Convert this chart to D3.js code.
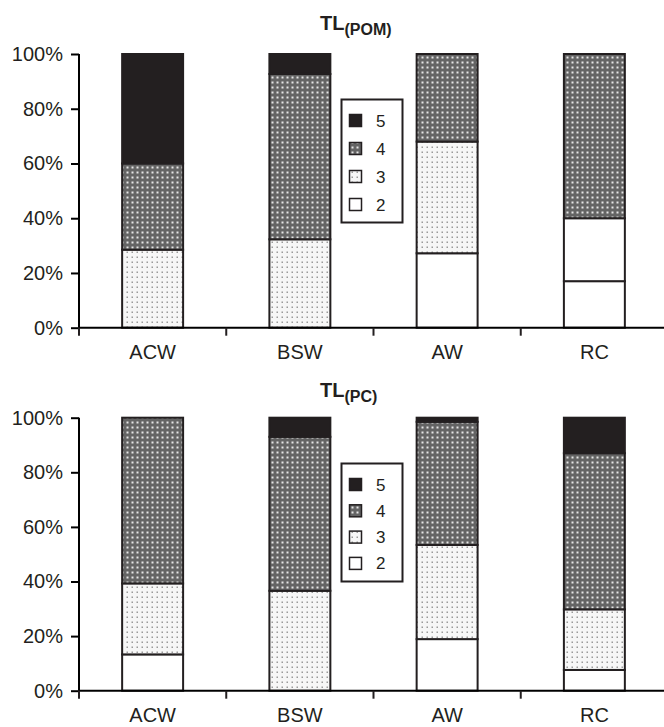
<!DOCTYPE html>
<html>
<head>
<meta charset="utf-8">
<script src="https://cdn.jsdelivr.net/npm/d3@7"></script>
<style>
  body { margin: 0; background: #fff; }
  text { font-family: "Liberation Sans", Arial, sans-serif; fill: #231f20; }
</style>
</head>
<body>
<div id="graph"></div>
<script>
// categories and class keys (bottom to top in each bar)
var categories = ["ACW", "BSW", "AW", "RC"];
var keys = ["1", "2", "3", "4", "5"];
var legendKeys = ["5", "4", "3", "2"];
var yTicks = [0, 20, 40, 60, 80, 100];

// TL(POM) shares, %
var pom1 = [0, 0, 0, 17];
var pom2 = [0, 0, 27.2, 23];
var pom3 = [28.5, 32.3, 40.8, 0];
var pom4 = [31.5, 60.4, 32, 60];
var pom5 = [40, 7.3, 0, 0];

// TL(PC) shares, %
var pc1 = [0, 0, 0, 0];
var pc2 = [13.3, 0, 18.9, 7.6];
var pc3 = [26, 36.6, 34.5, 22.2];
var pc4 = [60.7, 56.4, 45.1, 57.2];
var pc5 = [0, 7, 1.5, 13];

function rows(s1, s2, s3, s4, s5) {
    return categories.map((c, i) => ({cat: c, "1": s1[i], "2": s2[i], "3": s3[i], "4": s4[i], "5": s5[i]}));
}

var svg = d3.select("#graph").append("svg")
    .attr("width", 664)
    .attr("height", 727);

// fill patterns
var defs = svg.append("defs");
var p4 = defs.append("pattern").attr("id", "dark").attr("patternUnits", "userSpaceOnUse")
    .attr("width", 5).attr("height", 5);
p4.append("rect").attr("width", 5).attr("height", 5).attr("fill", "#646464");
p4.append("rect").attr("x", 1.5).attr("y", 1.5).attr("width", 2).attr("height", 2).attr("fill", "#e6e6e6");
var p3 = defs.append("pattern").attr("id", "light").attr("patternUnits", "userSpaceOnUse")
    .attr("width", 5).attr("height", 5);
p3.append("rect").attr("width", 5).attr("height", 5).attr("fill", "#f7f7f7");
p3.append("rect").attr("x", 1.5).attr("y", 1.5).attr("width", 1.5).attr("height", 1.5).attr("fill", "#9a9a9a");

var fills = {"1": "#fff", "2": "#fff", "3": "url(#light)", "4": "url(#dark)", "5": "#231f20"};

var x = d3.scaleBand().domain(categories).range([79, 668])
    .paddingInner(0.586).paddingOuter(0.293);

function drawChart(data, y0, y100, title, sub, titleY, legend) {
    var y = d3.scaleLinear().domain([0, 100]).range([y0, y100]);
    var g = svg.append("g");
    var stack = d3.stack().keys(keys)(data);

    // stacked bars
    stack.forEach(layer => {
        g.append("g").selectAll("rect")
            .data(layer.filter(d => d[1] - d[0] > 0))
            .join("rect")
            .attr("x", d => x(d.data.cat))
            .attr("width", x.bandwidth())
            .attr("y", d => y(d[1]))
            .attr("height", d => y(d[0]) - y(d[1]))
            .attr("fill", fills[layer.key])
            .attr("stroke", "#231f20")
            .attr("stroke-width", 2);
    });

    // y axis
    var yAxis = g.append("g").attr("transform", "translate(79,0)")
        .call(d3.axisLeft(y).tickValues(yTicks).tickFormat(d => d + "%").tickSize(8).tickPadding(8));
    yAxis.select(".domain").attr("d", "M0," + y0 + "V" + y100).attr("stroke-width", 2);
    yAxis.selectAll(".tick line").attr("stroke-width", 2);
    yAxis.selectAll("text").attr("font-size", 20).attr("font-family", "Liberation Sans, Arial, sans-serif");

    // x axis
    var xAxis = g.append("g").attr("transform", "translate(0," + y0 + ")")
        .call(d3.axisBottom(x).tickSize(0).tickPadding(17));
    xAxis.select(".domain").attr("d", "M79,0H668").attr("stroke-width", 2);
    xAxis.selectAll("text").attr("font-size", 20).attr("font-family", "Liberation Sans, Arial, sans-serif");
    xAxis.selectAll(".sep").data([79].concat(categories.slice(1).map(c => x(c) - x.step() * x.paddingInner() / 2)))
        .join("line").attr("class", "sep")
        .attr("x1", d => d).attr("x2", d => d).attr("y1", 0).attr("y2", 8)
        .attr("stroke", "#231f20").attr("stroke-width", 2);

    // title
    var t = g.append("text").attr("x", 320).attr("y", titleY).attr("font-weight", "bold").attr("font-size", 20);
    t.append("tspan").text("TL");
    t.append("tspan").attr("font-size", 16).attr("dy", 5).text(sub);

    // legend
    var lg = g.append("g");
    lg.append("rect").attr("x", 341.5).attr("y", legend.top).attr("width", 61).attr("height", legend.h)
        .attr("fill", "#fff").attr("stroke", "#231f20").attr("stroke-width", 2);
    legendKeys.forEach((k, i) => {
        var cy = legend.top + 21 + i * legend.step;
        lg.append("rect").attr("x", 349.5).attr("y", cy - 6).attr("width", 12).attr("height", 12)
            .attr("fill", fills[k]).attr("stroke", "#231f20").attr("stroke-width", 1.5);
        lg.append("text").attr("x", 376).attr("y", cy + 6).attr("font-size", 17).text(k);
    });
}

drawChart(rows(pom1, pom2, pom3, pom4, pom5), 327.7, 54, "TL", "(POM)", 30, {top: 99.5, h: 123, step: 28});
drawChart(rows(pc1, pc2, pc3, pc4, pc5), 690.7, 417.7, "TL", "(PC)", 397, {top: 463.5, h: 118, step: 26.3});
</script>
</body>
</html>
